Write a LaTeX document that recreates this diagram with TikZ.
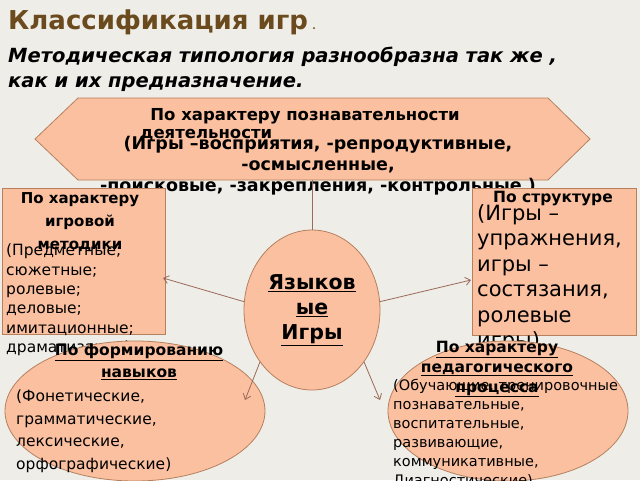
\documentclass[tikz,border=0pt]{standalone}
\usepackage{fontspec}
\setmainfont{DejaVu Sans}
\usetikzlibrary{shapes.geometric,arrows.meta}
\definecolor{bg}{HTML}{EEEDE8}
\definecolor{peach}{HTML}{FBC0A0}
\definecolor{edge}{HTML}{B5805E}
\definecolor{ttl}{HTML}{6B4A1E}
\definecolor{arr}{HTML}{9C6A5A}
\tikzset{shp/.style={fill=peach,draw=edge,line width=0.8pt},
 con/.style={draw=arr,line width=0.8pt},
 arrow/.style={con,-{Straight Barb[length=5pt,width=8pt]}},
 txt/.style={align=left,inner sep=0pt,anchor=north west}}
\begin{document}
\begin{tikzpicture}[x=1pt,y=-1pt]
\fill[bg] (0,0) rectangle (640,480);
\useasboundingbox (0,0) rectangle (640,480);
\node[anchor=west,inner sep=0,text=ttl,font=\bfseries\fontsize{26}{30}\selectfont] (title) at (8,22) {Классификация игр\,{\fontsize{9}{9}\selectfont.}};
\node[anchor=north west,inner sep=0,align=left,font=\bfseries\itshape\fontsize{19.5}{25}\selectfont] (sub) at (8,47) {Методическая типология разнообразна так же ,\\как и их предназначение.};
% hexagon
\path[shp] (35,139) -- (78,98) -- (548,98) -- (590,139) -- (548,180) -- (78,180) -- cycle;
\coordinate (hexb) at (312,180);
\node[inner sep=0,font=\bfseries\fontsize{16.5}{18}\selectfont] (h1) at (305,116) {По характеру познавательности};
\node[inner sep=0,font=\bfseries\fontsize{16.5}{18}\selectfont,anchor=west] (h2) at (140,135) {деятельности};
\node[inner sep=0,align=center,font=\bfseries\fontsize{17.5}{21}\selectfont] (h3) at (318,166) {(Игры –восприятия, -репродуктивные,\\-осмысленные,\\-поисковые, -закрепления, -контрольные )};
% boxes
\path[shp] (2,188) rectangle (165,334);
\path[shp] (472,188) rectangle (636,335);
\node[inner sep=0,align=center,font=\bfseries\fontsize{15}{23}\selectfont] (lt) at (80,222) {По характеру\\игровой\\методики};
\node[txt,font=\fontsize{15.5}{19.3}\selectfont] (lb) at (6,244) {(Предметные;\\сюжетные;\\ролевые;\\деловые;\\имитационные;\\драматизация)};
\node[inner sep=0,font=\bfseries\fontsize{15.5}{17}\selectfont] (rt) at (553,199) {По структуре};
\node[txt,font=\fontsize{21}{25.5}\selectfont] (rb) at (477,204) {(Игры –\\упражнения,\\игры –\\состязания,\\ролевые\\игры)};
% ellipses
\path[shp] (135,411) ellipse[x radius=130,y radius=70];
\path[shp] (508,411) ellipse[x radius=120,y radius=70];
\node[inner sep=0,align=center,font=\bfseries\fontsize{15.5}{22}\selectfont] (bl) at (139,362) {\underline{По формированию}\\\underline{навыков}};
\node[txt,font=\fontsize{15.5}{22.5}\selectfont] (blb) at (16,390) {(Фонетические,\\грамматические,\\лексические,\\орфографические)};
\node[inner sep=0,align=center,font=\bfseries\fontsize{15.5}{20}\selectfont] (br) at (497,369) {\underline{По характеру}\\\underline{педагогического}\\\underline{процесса}};
\node[txt,font=\fontsize{14.5}{19}\selectfont] (brb) at (393,379) {(Обучающие, тренировочные\\познавательные,\\воспитательные,\\развивающие,\\коммуникативные,\\Диагностические)};
% center
\node[shp,ellipse,minimum width=136pt,minimum height=160pt,inner sep=0,align=center,font=\bfseries\fontsize{20.5}{25}\selectfont] (c) at (312,310) {\underline{Языков}\\\underline{ые}\\\underline{Игры}};
\draw[con] (c.north) -- (hexb);
\coordinate (la) at (163,278);
\coordinate (ra) at (471,280);
\coordinate (bla) at (245,400);
\coordinate (bra) at (380,400);
\draw[arrow] (c.173) -- (la);
\draw[arrow] (c.7) -- (ra);
\draw[arrow] (c.225) -- (bla);
\draw[arrow] (c.315) -- (bra);
\end{tikzpicture}
\end{document}
